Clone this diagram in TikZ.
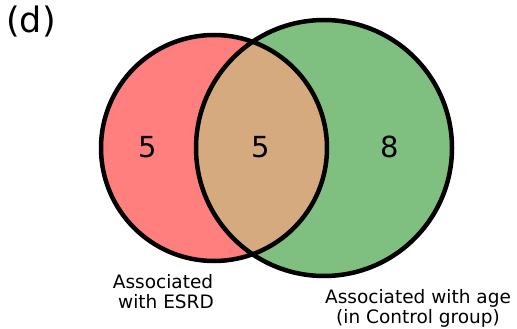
\documentclass[tikz,border=0pt]{standalone}
\usepackage{fontspec}
\setmainfont{DejaVu Sans}
\definecolor{cred}{RGB}{255,127,127}
\definecolor{cgreen}{RGB}{127,191,127}
\definecolor{cmix}{RGB}{213,170,126}
\begin{document}
\begin{tikzpicture}[x=1pt,y=-1pt,
  num/.style={font=\fontsize{29}{34}\selectfont, anchor=base},
  lbl/.style={font=\fontsize{18.5}{22}\selectfont, anchor=base},
  ring/.style={draw=black, line width=4.5pt}]
\useasboundingbox (0,0) rectangle (517,329);
\fill[cred] (214,148) circle (113);
\fill[cgreen] (324,148) circle (128);
\begin{scope}
  \clip (214,148) circle (113);
  \fill[cmix] (324,148) circle (128);
\end{scope}
\draw[ring] (214,148) circle (113);
\draw[ring] (324,148) circle (128);
\node[num] (a) at (148,157) {5};
\node[num] (ab) at (261,157) {5};
\node[num] (b) at (390,157) {8};
\node[lbl] (la1) at (163,288) {Associated};
\node[lbl] (la2) at (166,308) {with ESRD};
\node[lbl] (lb1) at (418,303) {Associated with age};
\node[lbl] (lb2) at (418,323) {(in Control group)};
\node[font=\fontsize{35}{40}\selectfont, anchor=base west, inner sep=0pt] (d) at (6,33) {(d)};
\end{tikzpicture}
\end{document}
